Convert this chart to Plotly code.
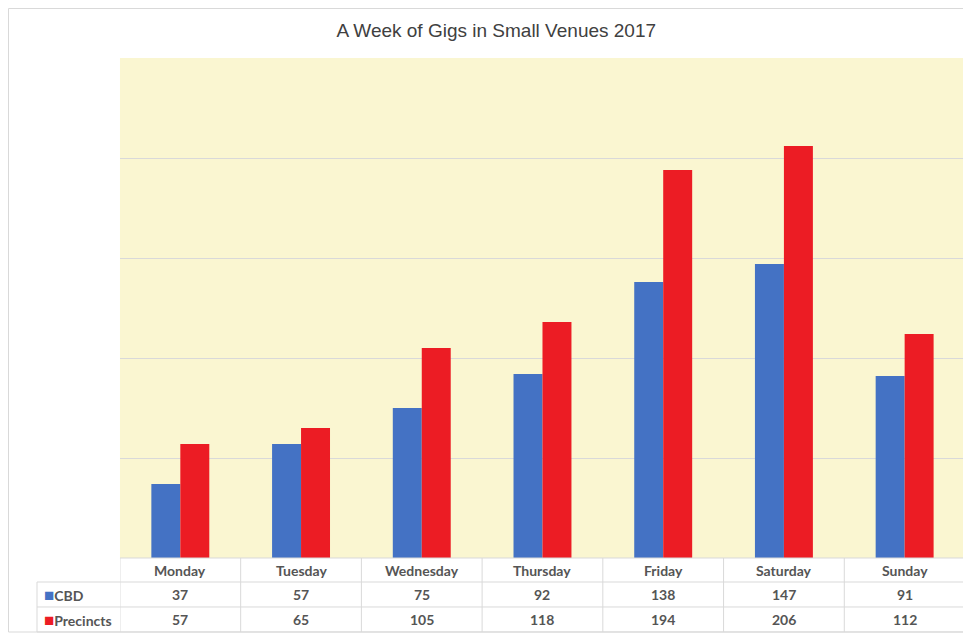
import plotly.graph_objects as go

days = ["Monday", "Tuesday", "Wednesday", "Thursday", "Friday", "Saturday", "Sunday"]
cbd = [37, 57, 75, 92, 138, 147, 91]
precincts = [57, 65, 105, 118, 194, 206, 112]
series_names = ["CBD", "Precincts"]

CBD_COLOR = "#4472C4"
PREC_COLOR = "#EC1C24"
TEXT = "#555555"
GRID = "#D9D9D9"
FONT = "Lato"

# table geometry in paper units (plot area bottom = 0.1289)
TBL_TOP = 0.1289
ROW_LINES = [0.0871, 0.0436, 0.0]
HEADER_Y = 0.108
ROW_Y = [0.0653, 0.0218]
PLOT_X0 = 0.0894

fig = go.Figure()

fig.add_trace(go.Bar(x=days, y=cbd, name=series_names[0],
                     marker=dict(color=CBD_COLOR, line=dict(width=0))))
fig.add_trace(go.Bar(x=days, y=precincts, name=series_names[1],
                     marker=dict(color=PREC_COLOR, line=dict(width=0))))

annos = []
# header row: day names under each category
for d in days:
    annos.append(dict(text=f"<b>{d}</b>", xref="x", yref="paper", x=d, y=HEADER_Y,
                      showarrow=False, xanchor="center", yanchor="middle",
                      font=dict(family=FONT, size=14, color=TEXT)))
# value rows
for vals, ypos in zip([cbd, precincts], ROW_Y):
    for d, v in zip(days, vals):
        annos.append(dict(text=f"<b>{v}</b>", xref="x", yref="paper", x=d, y=ypos,
                          showarrow=False, xanchor="center", yanchor="middle",
                          font=dict(family=FONT, size=14, color=TEXT)))
# legend keys + series names in the first column
for name, color, ypos in zip(series_names, [CBD_COLOR, PREC_COLOR], ROW_Y):
    annos.append(dict(
        text=f"<span style='color:{color};font-size:17px'>■</span><b>{name}</b>",
        xref="paper", yref="paper", x=0.0054, y=ypos,
        xanchor="left", yanchor="middle", showarrow=False,
        font=dict(family=FONT, size=14, color=TEXT),
    ))

line = dict(color=GRID, width=1)
shapes = [
    # outer chart border
    dict(type="rect", xref="paper", yref="paper", x0=-0.0307, x1=1.0032, y0=0, y1=1.0862,
         line=line, fillcolor="rgba(0,0,0,0)", layer="below"),
    # table top edge (header only spans the category columns)
    dict(type="line", xref="paper", yref="paper", x0=PLOT_X0, x1=1, y0=TBL_TOP, y1=TBL_TOP, line=line),
    # left edge of the label column
    dict(type="line", xref="paper", yref="paper", x0=0, x1=0, y0=0, y1=ROW_LINES[0], line=line),
]
for yl in ROW_LINES:
    shapes.append(dict(type="line", xref="paper", yref="paper", x0=0, x1=1, y0=yl, y1=yl, line=line))
for i in range(len(days) + 1):
    shapes.append(dict(type="line", xref="x", yref="paper", x0=i - 0.5, x1=i - 0.5,
                       y0=0, y1=TBL_TOP, line=line))

fig.update_layout(
    width=963,
    height=628,
    margin=dict(l=29, r=6, t=50, b=4),
    paper_bgcolor="white",
    plot_bgcolor="#FAF6D1",
    barmode="group",
    bargap=0.52,
    bargroupgap=0,
    showlegend=False,
    title=dict(
        text="A Week of Gigs in Small Venues 2017",
        x=0.507, xref="container", xanchor="center",
        y=0.965, yref="container", yanchor="middle",
        font=dict(family="Liberation Sans, Arial", size=19, color="#404040"),
    ),
    xaxis=dict(domain=[PLOT_X0, 1], range=[-0.5, 6.5], showticklabels=False,
               showgrid=False, ticks=""),
    yaxis=dict(domain=[TBL_TOP, 1], range=[0, 250], dtick=50, showticklabels=False,
               showgrid=True, gridcolor=GRID, gridwidth=1, zeroline=False),
    annotations=annos,
    shapes=shapes,
)

fig.write_html("out.html")
